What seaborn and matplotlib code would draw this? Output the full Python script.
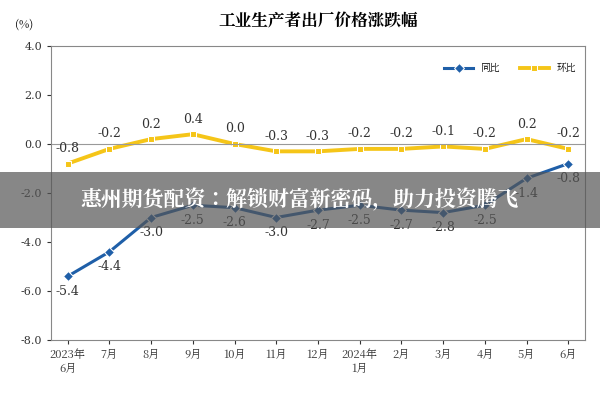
import pandas as pd
import matplotlib.pyplot as plt
import seaborn as sns
from matplotlib import font_manager
from matplotlib.patches import Rectangle

# find an installed CJK font
cjk = [f for f in font_manager.fontManager.ttflist if 'CJK' in f.name]
cjk_sc = [f for f in cjk if 'SC' in f.name] or cjk
if cjk_sc:
    cjk_name = cjk_sc[0].name
else:
    paths = [p for p in font_manager.findSystemFonts() if 'CJK' in p]
    for p in paths:
        font_manager.fontManager.addfont(p)
    cjk_name = font_manager.FontProperties(fname=paths[0]).get_name() if paths else 'DejaVu Sans'
plt.rcParams['font.family'] = [cjk_name, 'DejaVu Sans']

# Data
months = ['2023年\n6月', '7月', '8月', '9月', '10月', '11月', '12月', '2024年\n1月',
          '2月', '3月', '4月', '5月', '6月']
yoy = [-5.4, -4.4, -3.0, -2.5, -2.6, -3.0, -2.7, -2.5, -2.7, -2.8, -2.5, -1.4, -0.8]
mom = [-0.8, -0.2, 0.2, 0.4, 0.0, -0.3, -0.3, -0.2, -0.2, -0.1, -0.2, 0.2, -0.2]

df = pd.DataFrame({'x': range(len(months)), '同比': yoy, '环比': mom})

fig, ax = plt.subplots(figsize=(6, 4), dpi=100)
fig.subplots_adjust(left=0.085, right=0.975, top=0.885, bottom=0.15)

sns.lineplot(data=df, x='x', y='同比', ax=ax, color='#1f5fa8', lw=2.2,
             marker='D', markersize=5, label='同比')
sns.lineplot(data=df, x='x', y='环比', ax=ax, color='#f5c518', lw=2.8,
             marker='s', markersize=5, label='环比')

for i, v in enumerate(yoy):
    ax.text(i, v - 0.35, f'{v:.1f}', ha='center', va='top', fontsize=9,
            family='DejaVu Serif', color='#333333')
for i, v in enumerate(mom):
    ax.text(i, v + 0.35, f'{v:.1f}', ha='center', va='bottom', fontsize=9,
            family='DejaVu Serif', color='#333333')

ax.set_ylim(-8, 4)
ax.set_xlim(-0.4, len(months) - 0.6)
ax.set_yticks(range(-8, 5, 2))
ax.set_yticklabels([f'{t:.1f}' for t in range(-8, 5, 2)], fontsize=8, family='DejaVu Serif')
ax.set_xticks(range(len(months)))
ax.set_xticklabels(months, fontsize=8)
ax.axhline(0, color='#999999', lw=0.8)
ax.set_xlabel('')
ax.set_ylabel('')
for s in ax.spines.values():
    s.set_color('#888888')
ax.tick_params(length=3, colors='#333333')
ax.set_title('工业生产者出厂价格涨跌幅', fontsize=12, fontweight='bold', pad=14)
fig.text(0.025, 0.93, '(%)', fontsize=8)
ax.legend(loc='upper right', frameon=False, fontsize=7, ncol=2,
          bbox_to_anchor=(1.0, 0.97), handlelength=3)

# banner overlay
fig.patches.append(Rectangle((0, 0.43), 1, 0.14, transform=fig.transFigure,
                             facecolor='#555555', alpha=0.7, zorder=10))
fig.text(0.5, 0.5, '惠州期货配资：解锁财富新密码，助力投资腾飞', ha='center', va='center',
         color='white', fontsize=15, fontweight='bold', zorder=11)

fig.savefig('out.png', dpi=100)
